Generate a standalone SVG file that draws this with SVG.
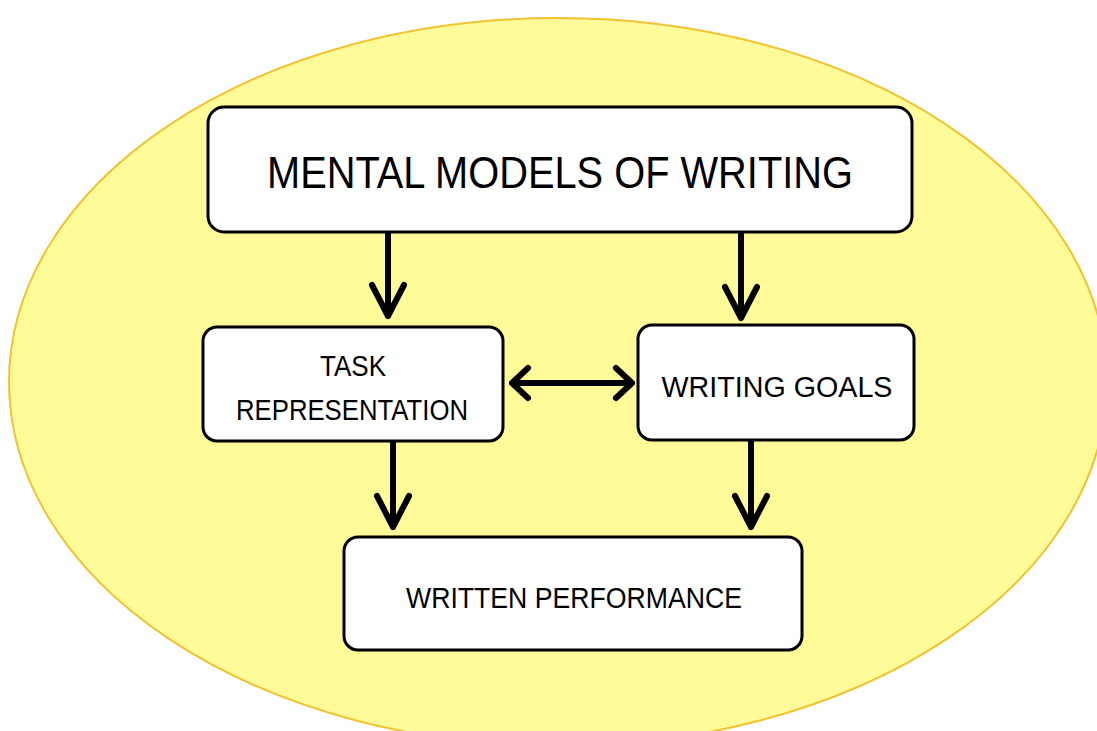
<svg xmlns="http://www.w3.org/2000/svg" width="1097" height="731" viewBox="0 0 1097 731">
<defs>
<style>
.box{fill:#ffffff;stroke:#000000;stroke-width:3}
.t{font-family:"Liberation Sans",Arial,sans-serif;fill:#000000;text-anchor:middle}
.c{fill:none;stroke:#000000;stroke-width:6;stroke-linecap:round;stroke-linejoin:round}
</style>
</defs>
<rect width="1097" height="731" fill="#ffffff"/>
<ellipse cx="558" cy="382" rx="549" ry="364" fill="#fffb98" stroke="#f2c231" stroke-width="2"/>
<g id="connectors">
<path class="c" d="M388 233 V316 M372 285 L388 316 L404 285"/>
<path class="c" d="M741 233 V318 M725 287 L741 318 L757 287"/>
<path class="c" d="M393 442 V527 M377 496 L393 527 L409 496"/>
<path class="c" d="M751 441 V527 M735 496 L751 527 L767 496"/>
<path class="c" d="M512 383 H632 M528 368 L512 383 L528 398 M616 368 L632 383 L616 398"/>
</g>
<g id="node-mental">
<rect class="box" x="208" y="107" width="704" height="125" rx="16"/>
<text class="t" x="560" y="188" font-size="44" textLength="586" lengthAdjust="spacingAndGlyphs">MENTAL MODELS OF WRITING</text>
</g>
<g id="node-task">
<rect class="box" x="203" y="327" width="300" height="114" rx="14"/>
<text class="t" x="353" y="376" font-size="29" textLength="66" lengthAdjust="spacingAndGlyphs">TASK</text>
<text class="t" x="352" y="420" font-size="29" textLength="232" lengthAdjust="spacingAndGlyphs">REPRESENTATION</text>
</g>
<g id="node-goals">
<rect class="box" x="638" y="325" width="276" height="115" rx="14"/>
<text class="t" x="777" y="397" font-size="29" textLength="231" lengthAdjust="spacingAndGlyphs">WRITING GOALS</text>
</g>
<g id="node-performance">
<rect class="box" x="344" y="537" width="458" height="113" rx="14"/>
<text class="t" x="574" y="608" font-size="29" textLength="336" lengthAdjust="spacingAndGlyphs">WRITTEN PERFORMANCE</text>
</g>
</svg>
